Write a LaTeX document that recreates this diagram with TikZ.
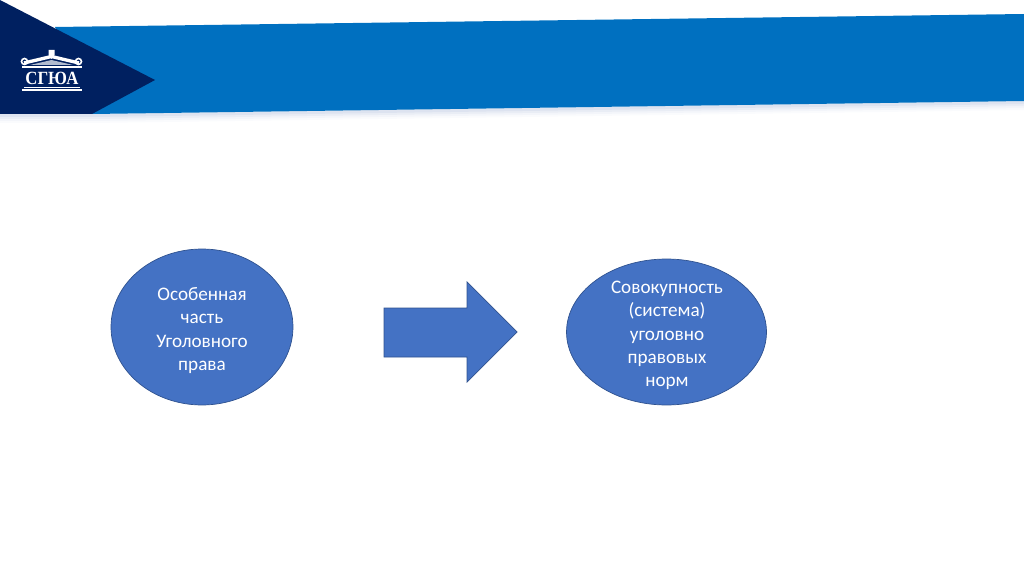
\documentclass[tikz,border=0pt]{standalone}
\usepackage{fontspec}
\setmainfont{Carlito}
\newfontfamily\logofont{Liberation Serif}
\usetikzlibrary{shapes.geometric}
\definecolor{bandblue}{HTML}{0070C0}
\definecolor{navy}{HTML}{002060}
\definecolor{fillblue}{HTML}{4472C4}
\definecolor{edgeblue}{HTML}{2F528F}
\definecolor{shadowblue}{HTML}{DDE3F0}
\tikzset{
	oval/.style={ellipse, draw=edgeblue, fill=fillblue, inner sep=0pt},
	ovaltext/.style={inner sep=0pt, text=white, align=center, font=\fontsize{10.9}{13.3}\selectfont},
}
\begin{document}
\begin{tikzpicture}[x=0.02cm, y=-0.02cm]
	\useasboundingbox (0,0) rectangle (1024,574);
	% band
	\foreach \d/\t in {9/15,7/35,5/65,3/100}{
		\fill[shadowblue!\t] (0,114) -- (92,114) -- (1024,101) -- (1024,101+\d) -- (92,114+\d) -- (0,114+\d) -- cycle;
	}
	\fill[bandblue] (55,27) -- (1024,14) -- (1024,101) -- (92,114) -- cycle;
	\fill[navy] (0,0) -- (155,80) -- (92,114) -- (0,114) -- cycle;
	% logo
	\fill[white] (48.5,50) -- (54.5,50) -- (54.5,55) -- (51.5,59) -- (48.5,55) -- cycle;
	\draw[white, line width=1.9pt] (24,63) -- (51.5,56.5) -- (79,63);
	\draw[white, line width=0.9pt] (24.5,61.5) circle (3);
	\draw[white, line width=0.9pt] (78.5,61.5) circle (3);
	\fill[white!70!navy] (30,65) -- (51.5,60) -- (73,65) -- cycle;
	\fill[white] (22,66.5) rectangle (82,68);
	\node[text=white, inner sep=0pt, font=\logofont\fontsize{10.6}{12}\selectfont\bfseries] (logotext) at (52,78) {\scalebox{0.9}[1]{СГЮА}};
	\fill[white] (24,87) rectangle (80,88);
	\fill[white] (22,89.3) rectangle (82,90.8);
	% ovals and arrow
	\node[oval, minimum width=3.64cm, minimum height=3.12cm] (part) at (202,327) {};
	\node[ovaltext] (parttext) at (202,330.5) {Особенная\\часть\\Уголовного\\права};
	\node[oval, minimum width=4cm, minimum height=2.92cm] (norms) at (666.5,332) {};
	\node[ovaltext] (normstext) at (667,335.5) {Совокупность\\(система)\\уголовно\\правовых\\норм};
	\draw[edgeblue, fill=fillblue] (384,308) -- (467,308) -- (467,282) -- (517,332) -- (467,382) -- (467,357) -- (384,357) -- cycle;
\end{tikzpicture}
\end{document}
